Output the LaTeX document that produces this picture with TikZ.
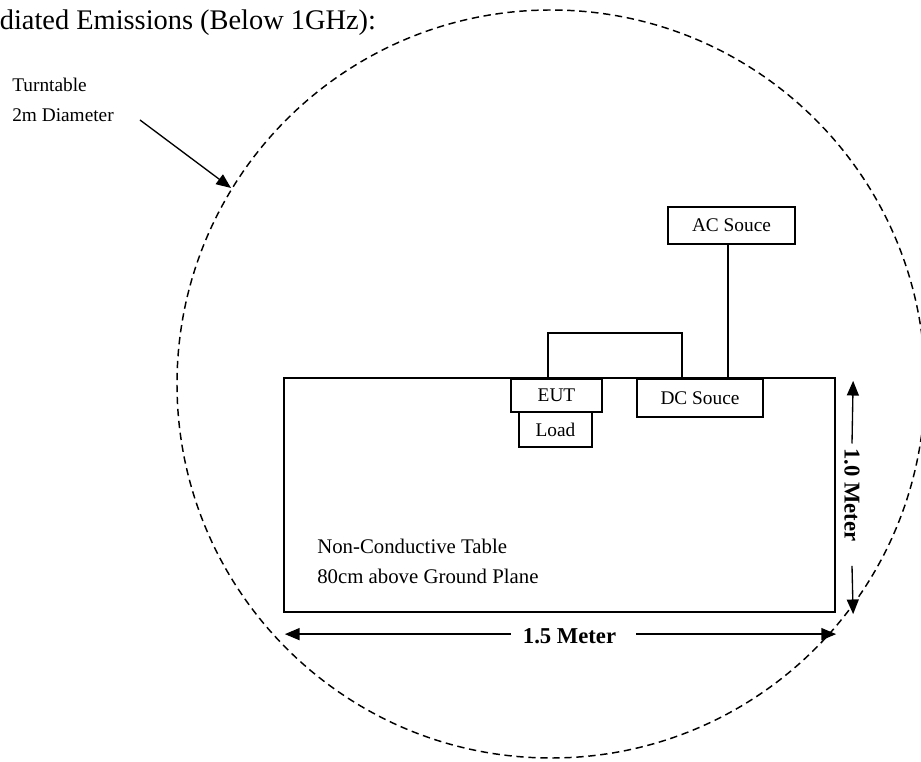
\documentclass[tikz,border=0pt]{standalone}
\usepackage{fontspec}
\setmainfont{Liberation Serif}
\usetikzlibrary{arrows.meta}

\begin{document}
\begin{tikzpicture}[x=0.75pt, y=-0.75pt,
  box/.style={draw, line width=0.8pt, inner sep=0pt, font=\fontsize{14.5}{17}\selectfont},
  lbl/.style={inner sep=0pt, font=\fontsize{14.5}{17}\selectfont},
  dim/.style={inner sep=0pt, font=\fontsize{17}{20}\selectfont\bfseries},
  arr/.style={-{Triangle[length=11pt,width=9pt]}, line width=1pt},
  wire/.style={line width=1.1pt}]
\useasboundingbox (0,0) rectangle (921,762);
% title, cut at the left edge
\node[anchor=base west, inner sep=0pt, font=\fontsize{21.3}{25}\selectfont] (title) at (-32,30) {Radiated Emissions (Below 1GHz):};
% turntable
\draw[line width=1.1pt, dash pattern=on 5.5pt off 3.5pt] (551,384) circle [radius=280.5pt];
\node[lbl, anchor=base west] (turnt) at (12,92) {Turntable};
\node[lbl, anchor=base west] (turnd) at (12,122) {2m Diameter};
\coordinate (rim) at (231,188);
\draw[arr] ([xshift=19.5pt, yshift=1.5pt]turnd.base east) -- (rim);
% table
\node[draw, line width=1.7pt, minimum width=413.25pt, minimum height=175.5pt, inner sep=0pt] (table) at (559.5,495) {};
\node[lbl, anchor=base west, font=\fontsize{15.6}{19}\selectfont] (tabname) at (317,554) {Non-Conductive Table};
\node[lbl, anchor=base west, font=\fontsize{15.6}{19}\selectfont] (tabheight) at (317,583) {80cm above Ground Plane};
% boxes
\node[box, minimum width=68.25pt, minimum height=24.75pt] (eut) at (556.5,395.5) {EUT};
\node[box, minimum width=54.75pt, minimum height=26.25pt] (load) at (555.5,429.5) {Load};
\node[box, minimum width=94.5pt, minimum height=28.5pt] (dc) at (700,398) {DC Souce};
\node[box, minimum width=95.25pt, minimum height=27.75pt] (ac) at (731.5,225.5) {AC Souce};
% cables
\draw[wire] ([xshift=-2.6pt]ac.south) -- ([xshift=-2.6pt]ac.south |- table.north);
\draw[wire] ([xshift=-6.4pt]eut.north |- table.north) -- ++(0,-44) -| ([xshift=-13.5pt]dc.north |- table.north);
% dimensions
\coordinate (htop) at ([xshift=12.75pt, yshift=-3pt]table.north east);
\coordinate (hbot) at ([xshift=12.75pt, yshift=-0.75pt]table.south east);
\node[dim, rotate=-90] (height) at (852,495) {1.0 Meter};
\draw[arr] ([yshift=3.5pt]height.west) -- (htop);
\draw[arr] ([yshift=-18pt]height.east) -- (hbot);
\coordinate (wleft) at ([xshift=1.5pt, yshift=-15.75pt]table.south west);
\coordinate (wright) at ([yshift=-15.75pt]table.south east);
\node[dim] (width) at (569.5,636) {1.5 Meter};
\draw[arr] ([xshift=-9pt]width.west |- wleft) -- (wleft);
\draw[arr] ([xshift=15pt]width.east |- wright) -- (wright);
\end{tikzpicture}
\end{document}
